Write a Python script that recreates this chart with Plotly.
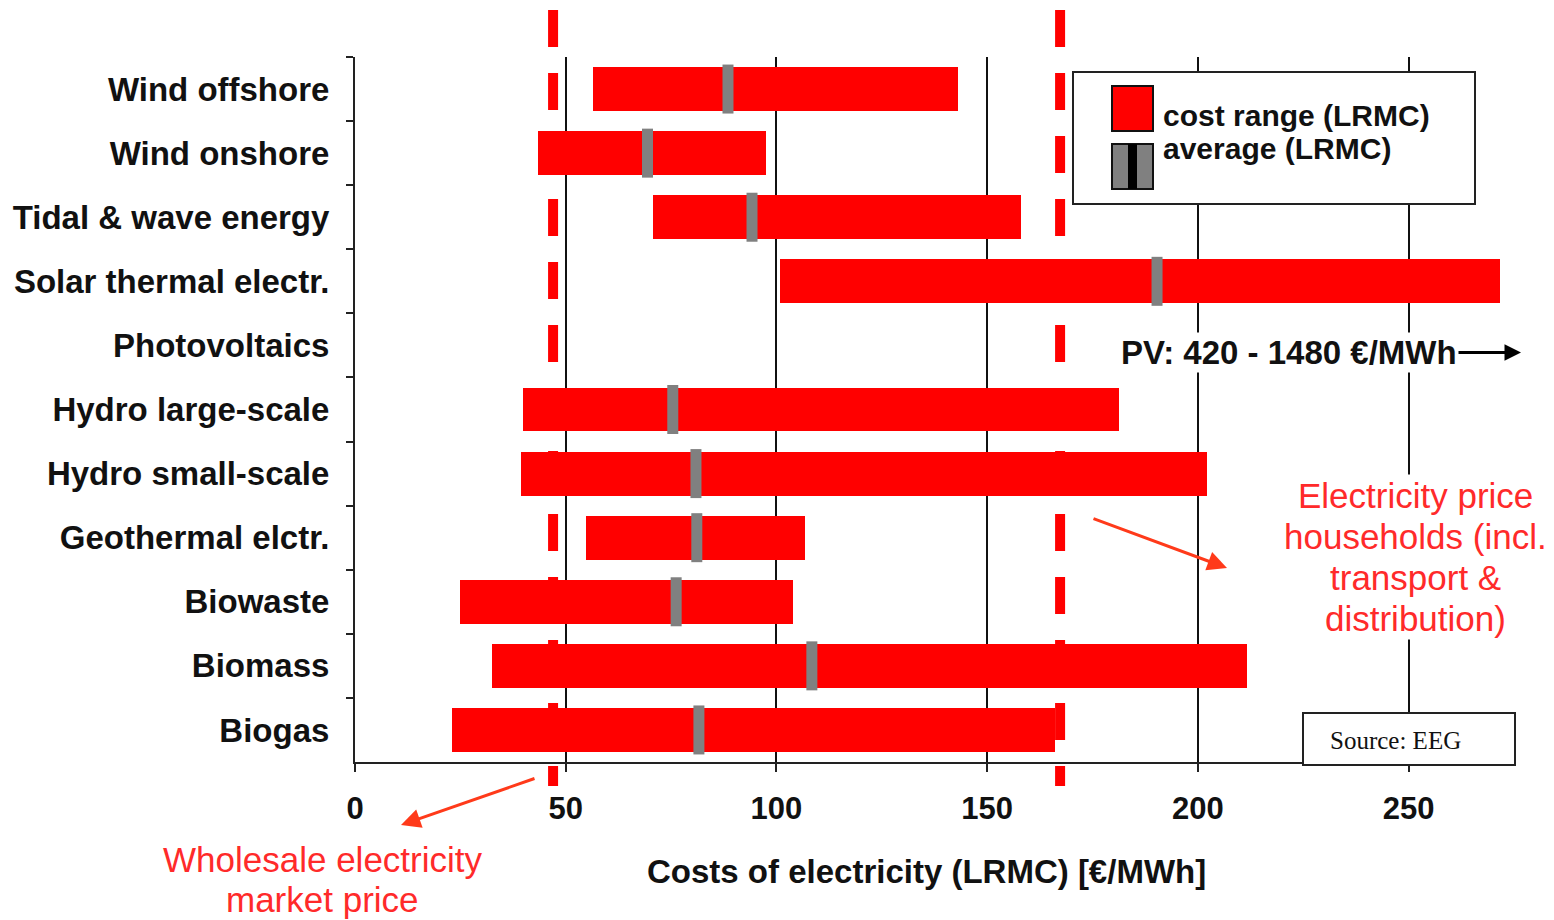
import plotly.graph_objects as go

# Long-run marginal cost (LRMC) of electricity by technology, EUR/MWh
technologies = [
    "Wind offshore", "Wind onshore", "Tidal & wave energy", "Solar thermal electr.",
    "Photovoltaics", "Hydro large-scale", "Hydro small-scale", "Geothermal elctr.",
    "Biowaste", "Biomass", "Biogas",
]
cost_low = [56.5, 43.4, 70.7, 100.8, None, 39.9, 39.4, 54.8, 24.9, 32.5, 23.0]
cost_high = [143.1, 97.5, 158.0, 271.6, None, 181.3, 202.1, 106.8, 103.9, 211.6, 166.1]
cost_avg = [88.5, 69.4, 94.2, 190.3, None, 75.4, 80.9, 81.1, 76.2, 108.4, 81.6]

# Photovoltaics range lies far off the scale, shown as a note
pv_range = (420, 1480)

# Reference price levels, EUR/MWh
wholesale_price = 47
household_price = 167.3

x_ticks = [0, 50, 100, 150, 200, 250]

RED = "#ff0000"
NOTE_RED = "#ff2a2a"
ARROW_RED = "#ff3a1a"
FONT = "Liberation Sans, Arial, sans-serif"

W, H = 1554, 920
L, R, T, B = 355, 40, 57, 158
PW, PH = W - L - R, H - T - B


def px(xp):
    return (xp - L) / PW


def py(yp):
    return (H - B - yp) / PH


spans = [None if lo is None else hi - lo for lo, hi in zip(cost_low, cost_high)]

fig = go.Figure()

fig.add_trace(go.Bar(
    y=technologies, x=spans, base=cost_low, orientation="h",
    width=0.686, marker=dict(color=RED, line=dict(width=0)),
    hoverinfo="skip", showlegend=False,
))

# average markers: short grey vertical strokes slightly taller than the bars
fig.add_trace(go.Scatter(
    y=technologies, x=cost_avg, mode="markers",
    marker=dict(symbol="line-ns", size=35, color="#808080",
                line=dict(color="#808080", width=11)),
    hoverinfo="skip", showlegend=False,
))

shapes = []
# dashed price lines
for price in (wholesale_price, household_price):
    shapes.append(dict(
        type="line", xref="x", yref="paper", x0=price, x1=price,
        y0=py(10), y1=py(786), layer="above",
        line=dict(color=RED, width=10, dash="37px,26px"),
    ))

# legend box
shapes.append(dict(type="rect", xref="paper", yref="paper",
                   x0=px(1073), x1=px(1475), y0=py(204), y1=py(72),
                   fillcolor="white", line=dict(color="#222", width=2), layer="above"))
shapes.append(dict(type="rect", xref="paper", yref="paper",
                   x0=px(1112), x1=px(1153), y0=py(131), y1=py(86),
                   fillcolor=RED, line=dict(color="#111", width=2), layer="above"))
shapes.append(dict(type="rect", xref="paper", yref="paper",
                   x0=px(1112), x1=px(1153), y0=py(189), y1=py(144),
                   fillcolor="#808080", line=dict(color="#111", width=2), layer="above"))
shapes.append(dict(type="rect", xref="paper", yref="paper",
                   x0=px(1128), x1=px(1137), y0=py(189), y1=py(144),
                   fillcolor="#000", line=dict(width=0), layer="above"))

# source box
shapes.append(dict(type="rect", xref="paper", yref="paper",
                   x0=px(1303), x1=px(1515), y0=py(765), y1=py(713),
                   fillcolor="white", line=dict(color="#222", width=2), layer="above"))

annotations = []
bold = dict(family=FONT, size=30, color="#111", weight="bold")

annotations.append(dict(text="cost range (LRMC)", xref="paper", yref="paper",
                        x=px(1161), y=py(115), xanchor="left", yanchor="middle",
                        showarrow=False, font=bold))
annotations.append(dict(text="average (LRMC)", xref="paper", yref="paper",
                        x=px(1161), y=py(149), xanchor="left", yanchor="middle",
                        showarrow=False, font=bold))

# photovoltaics note with arrow
annotations.append(dict(
    text=f"PV: {pv_range[0]} - {pv_range[1]} €/MWh", xref="paper", yref="y",
    x=px(1459), y="Photovoltaics", yshift=-7, xanchor="right", yanchor="middle",
    showarrow=False, bgcolor="white", font=dict(family=FONT, size=33, color="#111", weight="bold"),
))
annotations.append(dict(
    text="", xref="paper", yref="y", x=px(1521), y="Photovoltaics", yshift=-7,
    ax=-64, ay=0, showarrow=True, arrowhead=2, arrowsize=1.1, arrowwidth=3,
    arrowcolor="#000",
))

# household price note
house_lines = ["Electricity price", "households (incl.", "transport &", "distribution)"]
for i, line in enumerate(house_lines):
    annotations.append(dict(
        text=line, xref="paper", yref="paper", x=px(1415), y=py(495 + 41 * i),
        xanchor="center", yanchor="middle", showarrow=False, bgcolor="white",
        font=dict(family=FONT, size=35, color=NOTE_RED),
    ))
annotations.append(dict(
    text="", xref="paper", yref="paper", x=px(1227), y=py(568),
    ax=-135, ay=-50, showarrow=True, arrowhead=2, arrowsize=1.3, arrowwidth=3,
    arrowcolor=ARROW_RED,
))

# wholesale price note
whole_lines = ["Wholesale electricity", "market price"]
for i, line in enumerate(whole_lines):
    annotations.append(dict(
        text=line, xref="paper", yref="paper", x=px(322), y=py(859 + 40 * i),
        xanchor="center", yanchor="middle", showarrow=False,
        font=dict(family=FONT, size=35, color=NOTE_RED),
    ))
annotations.append(dict(
    text="", xref="paper", yref="paper", x=px(401), y=py(825),
    ax=135, ay=-47, showarrow=True, arrowhead=2, arrowsize=1.3, arrowwidth=3,
    arrowcolor=ARROW_RED,
))

# axis title
annotations.append(dict(
    text="Costs of electricity (LRMC) [€/MWh]", xref="paper", yref="paper",
    x=px(926), y=py(871), xanchor="center", yanchor="middle", showarrow=False,
    font=dict(family=FONT, size=33, color="#111", weight="bold"),
))

annotations.append(dict(
    text="Source: EEG", xref="paper", yref="paper", x=px(1395), y=py(740),
    xanchor="center", yanchor="middle", showarrow=False,
    font=dict(family="Liberation Serif, Times New Roman, serif", size=25, color="#111"),
))

n_cat = len(technologies)

fig.update_layout(
    width=W, height=H,
    margin=dict(l=L, r=R, t=T, b=B, pad=0),
    paper_bgcolor="white", plot_bgcolor="white",
    shapes=shapes, annotations=annotations,
    bargap=0,
    xaxis=dict(
        range=[0, 275], tickvals=x_ticks, ticktext=[str(v) for v in x_ticks],
        showgrid=True, gridcolor="#111", gridwidth=2, zeroline=False,
        showline=True, linecolor="#222", linewidth=2,
        ticks="outside", ticklen=8, tickwidth=2, tickcolor="#222",
        ticklabelstandoff=10,
        tickfont=dict(family=FONT, size=31, color="#111", weight="bold"),
    ),
    yaxis=dict(
        type="category", categoryorder="array", categoryarray=technologies,
        range=[n_cat - 0.5, -0.5], tickson="boundaries",
        showgrid=False, zeroline=False,
        showline=True, linecolor="#222", linewidth=2,
        ticks="outside", ticklen=7, tickwidth=2, tickcolor="#222",
        ticklabelstandoff=17,
        tickfont=dict(family=FONT, size=33, color="#111", weight="bold"),
    ),
)

fig.write_html("out.html")
